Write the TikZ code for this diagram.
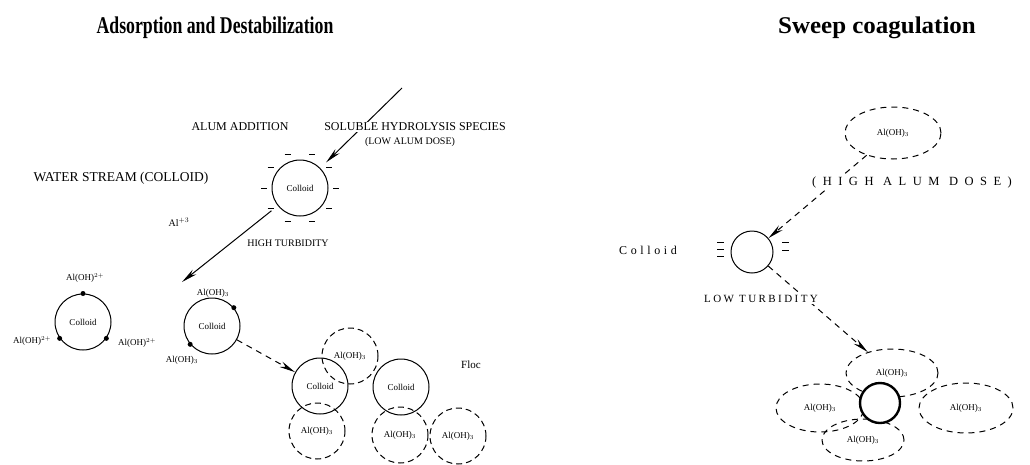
\documentclass[tikz,border=0pt]{standalone}
\usepackage{fontspec}
\setmainfont{Liberation Serif}
\newfontfamily\titlefont[FakeStretch=0.74]{Liberation Serif}
\newfontfamily\titlefontwide[FakeStretch=1.04]{Liberation Serif}
\usetikzlibrary{arrows.meta,shapes.geometric,calc}

\begin{document}
\begin{tikzpicture}[x=1pt,y=-1pt,
  title/.style={font=\titlefont\bfseries\fontsize{24}{28}\selectfont},
  titlewide/.style={font=\titlefontwide\bfseries\fontsize{24}{28}\selectfont},
  lbl/.style={font=\fontsize{12}{14}\selectfont, fill=white, inner sep=1pt},
  slbl/.style={font=\fontsize{10}{12}\selectfont, fill=white, inner sep=1pt},
  wide/.style={font=\fontsize{12.5}{14}\selectfont\addfontfeature{LetterSpace=52}, fill=white, inner sep=1pt},
  spec/.style={font=\fontsize{9}{10}\selectfont, inner sep=1pt},
  colloid/.style={circle, draw, line width=1pt, minimum size=56pt, inner sep=0pt, font=\fontsize{9}{10}\selectfont},
  hydrox/.style={circle, draw, line width=1pt, dash pattern=on 6pt off 4pt, minimum size=56pt, inner sep=0pt, font=\fontsize{9}{10}\selectfont},
  hydroxell/.style={ellipse, draw, line width=1pt, dash pattern=on 6pt off 5pt, inner sep=0pt, font=\fontsize{9}{10}\selectfont},
  site/.style={circle, fill=black, inner sep=0pt, minimum size=5pt},
  arr/.style={line width=1pt, -{Stealth[length=16pt,width=6pt]}},
  darr/.style={line width=1pt, dash pattern=on 6pt off 5pt, -{Stealth[length=16pt,width=6pt]}},
  charge/.style={line width=0.8pt}
]
\useasboundingbox (0,0) rectangle (1030,464);

% titles
\node[title] (t1) at (215,28) {Adsorption and Destabilization};
\node[titlewide] (t2) at (877,28) {Sweep coagulation};

% ---------- adsorption and destabilization ----------
\coordinate (feed) at (402,88);
\node[colloid] (cA) at (300,188) {Colloid};
\foreach \a in {0,35,70,110,145,180,215,250,290,325}
  \draw[charge] ($(cA.center)+(\a:36)$) +(-3,0) -- +(3,0);

\draw[arr, shorten >=8pt] (feed) -- (cA);
\node[lbl] (add) at (240,127) {ALUM ADDITION};
\node[lbl] (sol) at (415,127) {SOLUBLE HYDROLYSIS SPECIES};
\node[slbl] (low) at (410,142) {(LOW ALUM DOSE)};
\node[lbl, font=\fontsize{13.5}{15}\selectfont] (ws) at (121,178) {WATER STREAM (COLLOID)};

\coordinate (tipM) at (182,282);
\draw[arr, shorten <=8pt] (cA) -- (tipM);
\node[slbl] (ht) at (288,243) {HIGH TURBIDITY};
\node[spec, font=\fontsize{10}{11}\selectfont] (al3) at (179,222) {Al$^{+3}$};

% colloid with adsorbed species
\node[colloid] (cL) at (83,322) {Colloid};
\node[site] (dL1) at (cL.north) {};
\node[site] (dL2) at (cL.215) {};
\node[site] (dL3) at (cL.325) {};
\node[spec] (sL1) at (85,278) {Al(OH)$^{2+}$};
\node[spec] (sL2) at (32,341) {Al(OH)$^{2+}$};
\node[spec] (sL3) at (137,343) {Al(OH)$^{2+}$};

\node[colloid] (cM) at (212,326) {Colloid};
\node[site] (dM1) at (cM.40) {};
\node[site] (dM2) at (cM.220) {};
\node[spec] (sM1) at (213,293) {Al(OH)$_3$};
\node[spec] (sM2) at (182,360) {Al(OH)$_3$};

% floc
\node[colloid] (fL) at (320,386) {Colloid};
\node[hydrox] (fLt) at (350,356) {Al(OH)$_3$};
\node[hydrox] (fLb) at (317,431) {Al(OH)$_3$};
\node[colloid] (fR) at (401,387) {Colloid};
\node[hydrox] (fRb) at (400,435) {Al(OH)$_3$};
\node[hydrox] (fRr) at (458,436) {Al(OH)$_3$};
\node[spec, font=\fontsize{11}{12}\selectfont] (floc) at (471,365) {Floc};

\draw[darr] (cM) -- (fL);

% ---------- sweep coagulation ----------
\node[hydroxell, minimum width=96pt, minimum height=52pt] (sA) at (893,133) {Al(OH)$_3$};
\node[colloid, minimum size=42pt] (s1) at (752,252) {};
\foreach \y in {242,249,256} \draw[charge] (717,\y) -- (724,\y);
\foreach \y in {242,250} \draw[charge] (782,\y) -- (789,\y);
\node[lbl, font=\fontsize{12}{14}\selectfont\addfontfeature{LetterSpace=30}] (col) at (648,250) {Colloid};

\draw[darr] (sA) -- (s1);
\node[wide] (hd) at (912,182) {(HIGH ALUM DOSE)};

\node[hydroxell, minimum width=92pt, minimum height=48pt] (sT) at (892,373) {Al(OH)$_3$};
\node[hydroxell, minimum width=88pt, minimum height=48pt] (sLf) at (820,408) {Al(OH)$_3$};
\node[hydroxell, minimum width=94pt, minimum height=50pt] (sRt) at (966,408) {Al(OH)$_3$};
\node[hydroxell, minimum width=82pt, minimum height=42pt] (sBt) at (863,440) {Al(OH)$_3$};
\node[colloid, minimum size=40pt, line width=2.4pt, fill=white] (s2) at (880,403) {};

\draw[darr] (s1) -- (sT);
\node[wide, font=\fontsize{11}{13}\selectfont\addfontfeature{LetterSpace=22}] (lt) at (761,299) {LOW TURBIDITY};

\end{tikzpicture}
\end{document}
